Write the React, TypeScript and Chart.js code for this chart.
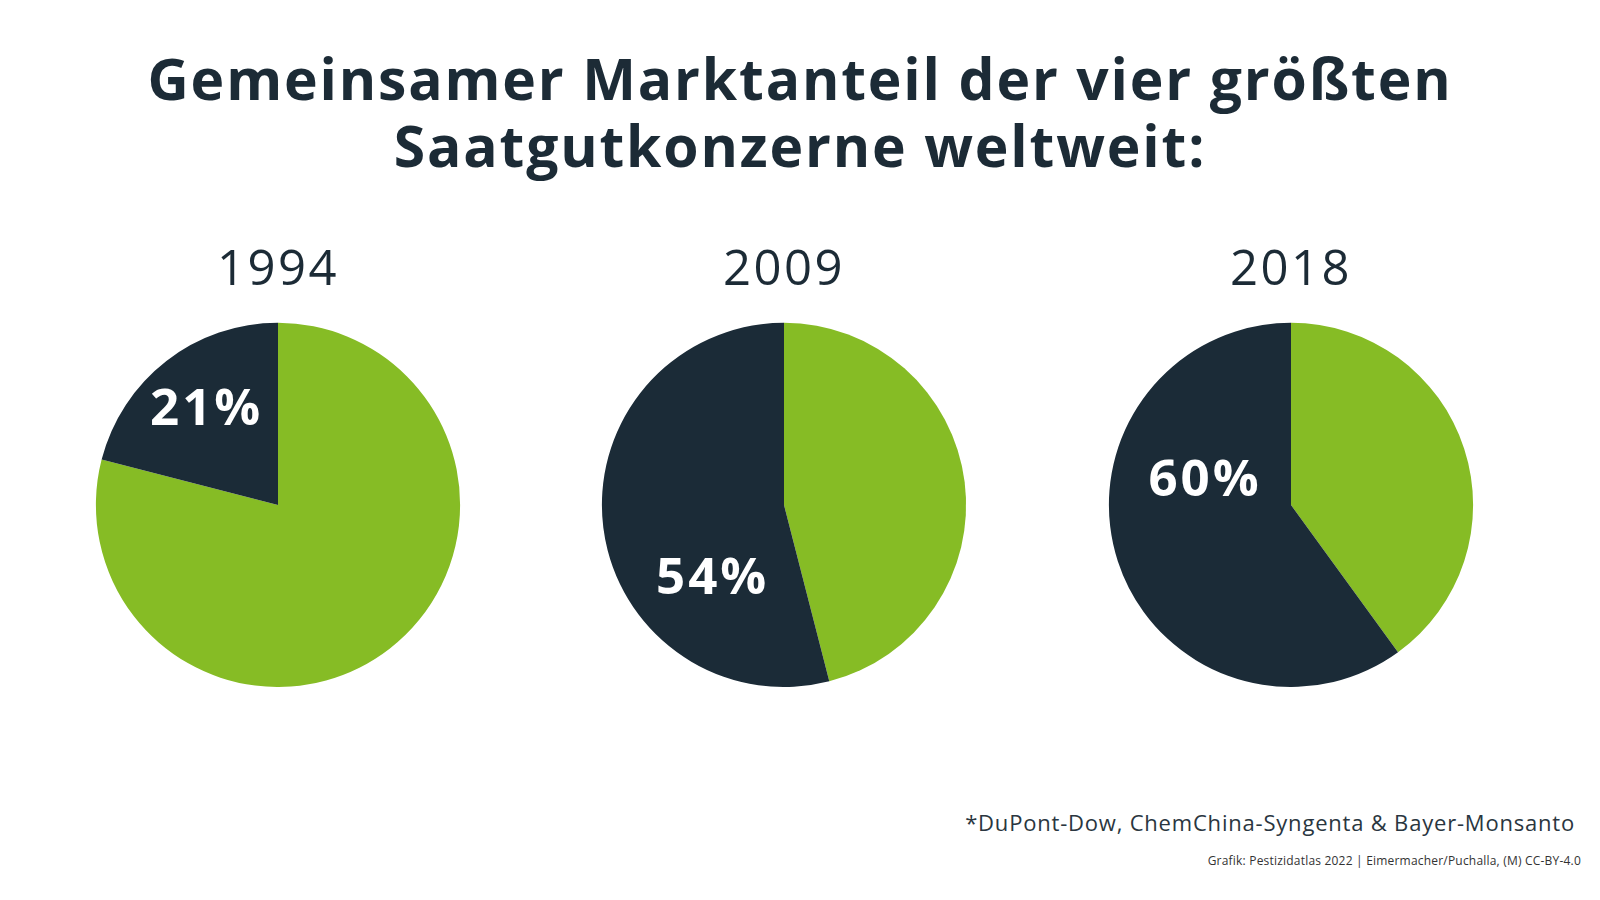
import React, { useEffect, useRef } from "react";
import { Chart, registerables } from "chart.js";

Chart.register(...registerables);

const years = ["1994", "2009", "2018"];
const top4Share = [21, 54, 60];
const otherShare = [79, 46, 40];
const sliceLabels = ["Übrige Anbieter", "Vier größte Konzerne*"];

const titleLines = [
  "Gemeinsamer Marktanteil der vier größten",
  "Saatgutkonzerne weltweit:",
];
const footnote = "*DuPont-Dow, ChemChina-Syngenta & Bayer-Monsanto";
const credit = "Grafik: Pestizidatlas 2022 | Eimermacher/Puchalla, (M) CC-BY-4.0";

// label placement (fraction of radius relative to pie centre)
const labelOffsets = [
  [-0.4, -0.52],
  [-0.4, 0.41],
  [-0.48, -0.13],
];

const GREEN = "#86bc25";
const DARK = "#1b2b37";
const TEXT = "#1c2b36";

const spacingPlugin = {
  id: "titleSpacing",
  beforeDraw(chart: any) {
    try { (chart.ctx as any).letterSpacing = "2.5px"; } catch (e) {}
  },
  afterDraw(chart: any) {
    try { (chart.ctx as any).letterSpacing = "0px"; } catch (e) {}
  },
};

const pctLabelPlugin = {
  id: "pctLabel",
  afterDatasetsDraw(chart: any, _args: any, opts: any) {
    const meta = chart.getDatasetMeta(0);
    const arc = meta.data[1];
    if (!arc) return;
    const { x, y, outerRadius } = arc.getProps(["x", "y", "outerRadius"], true);
    const ctx = chart.ctx;
    ctx.save();
    ctx.fillStyle = "#ffffff";
    ctx.font = "700 51px 'Open Sans'";
    ctx.textAlign = "center";
    ctx.textBaseline = "middle";
    try { (ctx as any).letterSpacing = "3px"; } catch (e) {}
    ctx.fillText(opts.text, x + opts.dx * outerRadius + 1.5, y + opts.dy * outerRadius);
    try { (ctx as any).letterSpacing = "2.5px"; } catch (e) {}
    ctx.restore();
  },
};

function PieChart({ idx }: { idx: number }) {
  const ref = useRef<HTMLCanvasElement>(null);
  useEffect(() => {
    if (!ref.current) return;
    const chart = new Chart(ref.current, {
      type: "pie",
      data: {
        labels: sliceLabels,
        datasets: [
          {
            data: [otherShare[idx], top4Share[idx]],
            backgroundColor: [GREEN, DARK],
            borderWidth: 0,
            hoverOffset: 0,
          },
        ],
      },
      options: {
        responsive: false,
        animation: false,
        layout: { padding: 0 },
        plugins: {
          legend: { display: false },
          tooltip: { enabled: false },
          title: {
            display: true,
            text: years[idx],
            color: TEXT,
            font: { family: "'Open Sans'", size: 49, weight: "400" as any, lineHeight: 1.2 },
            padding: { top: 12, bottom: 22 },
          },
          pctLabel: {
            text: `${top4Share[idx]}%`,
            dx: labelOffsets[idx][0],
            dy: labelOffsets[idx][1],
          },
        } as any,
      },
      plugins: [spacingPlugin, pctLabelPlugin],
    });
    return () => chart.destroy();
  }, [idx]);
  const lefts = [28, 534, 1041];
  return (
    <canvas
      ref={ref}
      width={500}
      height={457}
      style={{ position: "absolute", left: lefts[idx], top: 230, width: 500, height: 457 }}
    />
  );
}

export default function App() {
  useEffect(() => {
    document.body.style.margin = "0";
  }, []);
  return (
    <div
      style={{
        position: "fixed",
        left: 0,
        top: 0,
        width: 1600,
        height: 900,
        background: "#ffffff",
        overflow: "hidden",
        fontFamily: "'Open Sans', sans-serif",
      }}
    >
      <div
        style={{
          position: "absolute",
          left: 0,
          top: 45,
          width: 1600,
          textAlign: "center",
          fontWeight: 700,
          fontSize: 57,
          lineHeight: "67px",
          letterSpacing: "1.85px",
          color: TEXT,
        }}
      >
        {titleLines.map((l, i) => (
          <div key={i}>{l}</div>
        ))}
      </div>
      {years.map((_, i) => (
        <PieChart key={i} idx={i} />
      ))}
      <div
        style={{
          position: "absolute",
          right: 25,
          top: 807,
          fontSize: 22,
          lineHeight: "30px",
          letterSpacing: "0.8px",
          color: "#2a3640",
          whiteSpace: "nowrap",
        }}
      >
        {footnote}
      </div>
      <div
        style={{
          position: "absolute",
          right: 19,
          top: 853,
          fontSize: 12,
          lineHeight: "16px",
          letterSpacing: "0.2px",
          color: "#333333",
          whiteSpace: "nowrap",
        }}
      >
        {credit}
      </div>
    </div>
  );
}
